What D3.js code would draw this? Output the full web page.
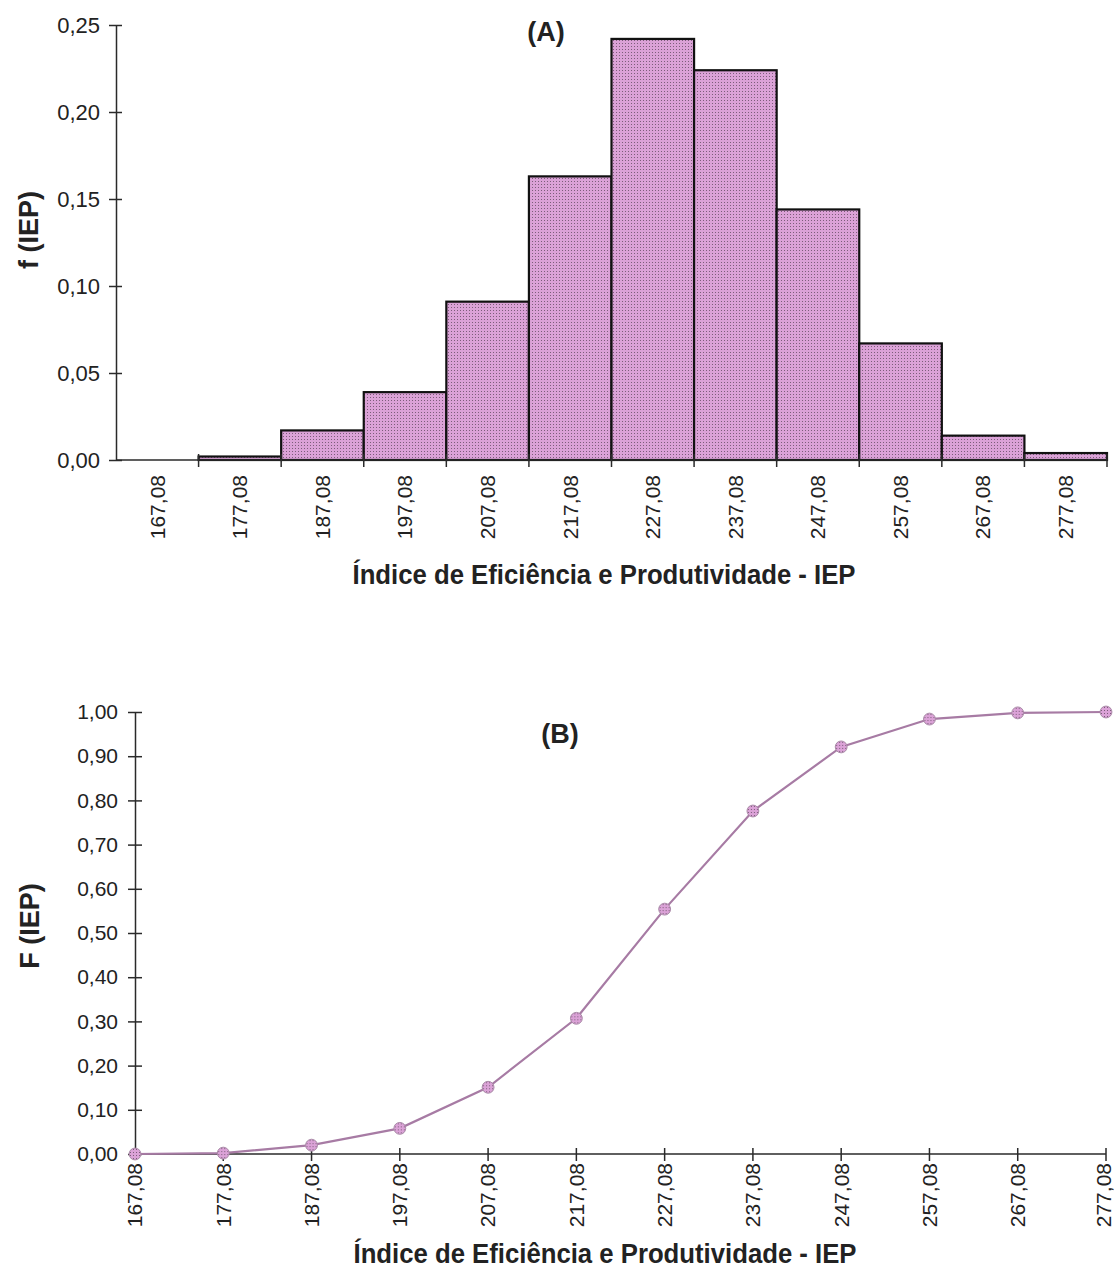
<!DOCTYPE html>
<html>
<head>
<meta charset="utf-8">
<script src="https://cdn.jsdelivr.net/npm/d3@7"></script>
<style>
  html, body { margin: 0; padding: 0; background: #fff; }
  svg { display: block; font-family: "Liberation Sans", Arial, sans-serif; }
</style>
</head>
<body>
<svg id="chart" width="1114" height="1274"></svg>
<script>
// ---- data ----
const categories = ["167,08","177,08","187,08","197,08","207,08","217,08","227,08","237,08","247,08","257,08","267,08","277,08"];
const freqValues = [0, 0.002, 0.017, 0.039, 0.091, 0.163, 0.242, 0.224, 0.144, 0.067, 0.014, 0.004];
const cumValues  = [0, 0.002, 0.020, 0.058, 0.151, 0.307, 0.554, 0.776, 0.921, 0.984, 0.998, 1.000];
const yTicksA = [0, 0.05, 0.10, 0.15, 0.20, 0.25];
const yTicksB = [0, 0.1, 0.2, 0.3, 0.4, 0.5, 0.6, 0.7, 0.8, 0.9, 1.0];
const xTitle = "Índice de Eficiência e Produtividade - IEP";

const svg = d3.select("#chart");
const fmt = v => d3.format(".2f")(v).replace(".", ",");
const axisColor = "#2a2a2a";

// pattern imitating the screened pink fill
const defs = svg.append("defs");
const pat = defs.append("pattern").attr("id", "dots").attr("patternUnits", "userSpaceOnUse")
  .attr("width", 3).attr("height", 3);
pat.append("rect").attr("width", 3).attr("height", 3).attr("fill", "#dba2d7");
pat.append("rect").attr("x", 1).attr("y", 1).attr("width", 1).attr("height", 1).attr("fill", "#7d5d7b");

// ================= Chart A =================
const A = { left: 116, right: 1107, top: 25, bottom: 460 };
const xA = d3.scaleBand().domain(categories).range([A.left, A.right]).padding(0);
const yA = d3.scaleLinear().domain([0, 0.25]).range([A.bottom, A.top]);
const gA = svg.append("g");

gA.selectAll("rect.bar").data(categories.map((c, i) => ({ c, v: freqValues[i] })).filter(d => d.v > 0))
  .join("rect").attr("class", "bar")
  .attr("x", d => xA(d.c)).attr("width", xA.bandwidth())
  .attr("y", d => yA(d.v)).attr("height", d => yA(0) - yA(d.v))
  .attr("fill", "url(#dots)").attr("stroke", "#111").attr("stroke-width", 2.2);

// y axis
const yAxisA = gA.append("g").attr("transform", `translate(${A.left},0)`)
  .call(d3.axisLeft(yA).tickValues(yTicksA).tickFormat(fmt).tickSizeInner(7).tickSizeOuter(0).tickPadding(9));
yAxisA.select(".domain").attr("stroke", axisColor).attr("stroke-width", 1.5);
yAxisA.selectAll(".tick line").attr("stroke", axisColor).attr("stroke-width", 1.5).attr("x2", 6).attr("x1", -7);
yAxisA.selectAll(".tick text").attr("font-size", 22).attr("fill", "#222").attr("x", -16);

// x axis line and boundary ticks
gA.append("line").attr("x1", A.left).attr("x2", A.right).attr("y1", yA(0)).attr("y2", yA(0))
  .attr("stroke", axisColor).attr("stroke-width", 1.5);
const boundaries = categories.slice(1).map(c => xA(c)).concat([A.right]);
gA.selectAll("line.xt").data(boundaries).join("line").attr("class", "xt")
  .attr("x1", d => d).attr("x2", d => d).attr("y1", yA(0) - 6).attr("y2", yA(0) + 7)
  .attr("stroke", axisColor).attr("stroke-width", 1.5);
gA.selectAll("text.xl").data(categories).join("text").attr("class", "xl")
  .attr("transform", d => `translate(${xA(d) + xA.bandwidth() / 2},475) rotate(-90)`)
  .attr("text-anchor", "end").attr("dy", "0.35em").attr("font-size", 21).attr("fill", "#222")
  .text(d => d);

gA.append("text").attr("x", 546).attr("y", 41).attr("text-anchor", "middle")
  .attr("font-size", 27).attr("font-weight", "bold").attr("fill", "#222").text("(A)");
gA.append("text").attr("transform", "translate(38,230) rotate(-90)").attr("text-anchor", "middle")
  .attr("font-size", 27).attr("font-weight", "bold").attr("fill", "#222").text("f (IEP)");
gA.append("text").attr("x", 604).attr("y", 584).attr("text-anchor", "middle")
  .attr("font-size", 27).attr("font-weight", "bold").attr("fill", "#222")
  .attr("textLength", 503).attr("lengthAdjust", "spacingAndGlyphs").text(xTitle);

// ================= Chart B =================
const B = { left: 135, right: 1106, top: 712, bottom: 1154 };
const xB = d3.scalePoint().domain(categories).range([B.left, B.right]).padding(0);
const yB = d3.scaleLinear().domain([0, 1]).range([B.bottom, B.top]);
const gB = svg.append("g");

const yAxisB = gB.append("g").attr("transform", `translate(${B.left},0)`)
  .call(d3.axisLeft(yB).tickValues(yTicksB).tickFormat(fmt).tickSizeInner(7).tickSizeOuter(0).tickPadding(9));
yAxisB.select(".domain").attr("stroke", axisColor).attr("stroke-width", 1.5);
yAxisB.selectAll(".tick line").attr("stroke", axisColor).attr("stroke-width", 1.5).attr("x2", 7).attr("x1", -7);
yAxisB.selectAll(".tick text").attr("font-size", 21).attr("fill", "#222").attr("x", -17);

gB.append("line").attr("x1", B.left).attr("x2", B.right).attr("y1", yB(0)).attr("y2", yB(0))
  .attr("stroke", axisColor).attr("stroke-width", 1.5);
gB.selectAll("line.xt").data(categories.slice(1)).join("line").attr("class", "xt")
  .attr("x1", d => xB(d)).attr("x2", d => xB(d)).attr("y1", yB(0) - 6).attr("y2", yB(0) + 7)
  .attr("stroke", axisColor).attr("stroke-width", 1.5);
gB.selectAll("text.xl").data(categories).join("text").attr("class", "xl")
  .attr("transform", (d, i) => `translate(${xB(d) - (i === categories.length - 1 ? 2 : 0)},1163) rotate(-90)`)
  .attr("text-anchor", "end").attr("dy", "0.35em").attr("font-size", 21).attr("fill", "#222")
  .text(d => d);

const pts = categories.map((c, i) => ({ c, v: cumValues[i] }));
gB.append("path").datum(pts)
  .attr("d", d3.line().x(d => xB(d.c)).y(d => yB(d.v)))
  .attr("fill", "none").attr("stroke", "#a77ba4").attr("stroke-width", 2.2);
gB.selectAll("path.mk").data(pts).join("path").attr("class", "mk")
  .attr("transform", d => `translate(${xB(d.c)},${yB(d.v)})`)
  .attr("d", d3.symbol().type(d3.symbolCircle).size(110))
  .attr("fill", "url(#dots)").attr("stroke", "#a98aa7").attr("stroke-width", 1);

gB.append("text").attr("x", 560).attr("y", 743).attr("text-anchor", "middle")
  .attr("font-size", 27).attr("font-weight", "bold").attr("fill", "#222").text("(B)");
gB.append("text").attr("transform", "translate(39,926) rotate(-90)").attr("text-anchor", "middle")
  .attr("font-size", 27).attr("font-weight", "bold").attr("fill", "#222").text("F (IEP)");
gB.append("text").attr("x", 605).attr("y", 1263).attr("text-anchor", "middle")
  .attr("font-size", 27).attr("font-weight", "bold").attr("fill", "#222")
  .attr("textLength", 503).attr("lengthAdjust", "spacingAndGlyphs").text(xTitle);
</script>
</body>
</html>
